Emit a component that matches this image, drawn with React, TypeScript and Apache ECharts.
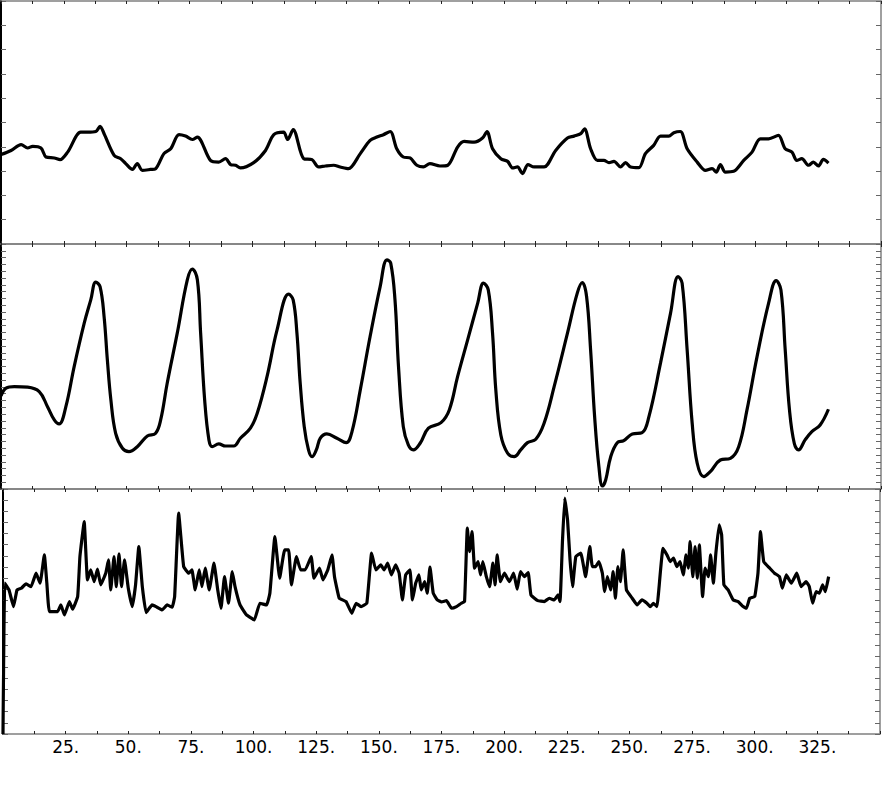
import React, { useEffect, useRef } from "react";
import * as echarts from "echarts";

// Panel 1 (top)
const p1x = [0, 4, 8, 10.6, 12.6, 15.9, 17.9, 21.2, 23.5, 26.5, 31.7, 34.4, 37.7, 39.4, 41, 45, 47.6, 49.6, 52.3, 54.2, 56.2, 59.5, 61.5, 64.8, 67.5, 70.8, 73.4, 76.1, 78.1, 83.3, 86.6, 89.3, 91.3, 93.3, 95.2, 100.5, 105.2, 108.5, 112.4, 114, 116.2, 120.4, 123.7, 126.3, 129, 132.3, 134.9, 138.2, 142.9, 146.8, 149.5, 152.1, 154.8, 157.4, 160, 162.7, 165.4, 168, 170.6, 174.6, 177.7, 181.6, 184.2, 188.2, 191.5, 193.3, 195.5, 198.8, 201.5, 203.5, 205.4, 207.4, 209.6, 212, 216, 220.6, 225.3, 227.9, 230.6, 232.1, 234.5, 237.2, 239.8, 241.8, 243.8, 246.4, 248.4, 250.4, 253.7, 256.3, 259.6, 262.3, 265.6, 267.6, 270.2, 272.9, 276.9, 280.2, 282.8, 284.5, 286.1, 288.1, 291.4, 295.4, 298.7, 302, 305.3, 309.2, 311.9, 314.6, 316.5, 318.5, 321.2, 323.1, 325.1, 327.1, 329.1];
const p1y = [3.68, 3.85, 4.09, 3.95, 4.02, 3.95, 3.58, 3.54, 3.47, 3.78, 4.6, 4.6, 4.63, 4.84, 4.54, 3.65, 3.51, 3.31, 3.07, 3.31, 3.03, 3.07, 3.1, 3.72, 3.92, 4.5, 4.44, 4.3, 4.4, 3.44, 3.37, 3.51, 3.27, 3.24, 3.13, 3.35, 3.85, 4.5, 4.6, 4.3, 4.71, 3.51, 3.47, 3.17, 3.21, 3.24, 3.17, 3.1, 3.72, 4.26, 4.4, 4.5, 4.63, 3.92, 3.58, 3.54, 3.24, 3.17, 3.31, 3.21, 3.24, 3.99, 4.22, 4.19, 4.36, 4.63, 3.92, 3.51, 3.4, 3.13, 3.17, 2.9, 3.27, 3.17, 3.17, 3.85, 4.36, 4.44, 4.54, 4.74, 3.92, 3.44, 3.44, 3.35, 3.4, 3.17, 3.35, 3.17, 3.14, 3.72, 4.06, 4.44, 4.44, 4.58, 4.63, 3.92, 3.37, 3.03, 3.1, 2.96, 3.27, 2.96, 2.99, 3.44, 3.78, 4.33, 4.33, 4.47, 3.92, 3.78, 3.44, 3.51, 3.24, 3.37, 3.21, 3.48, 3.33];

// Panel 2 (middle)
const p2x = [0, 2, 5.3, 10.6, 15.2, 18.5, 21.2, 23.1, 25.8, 29.1, 33.1, 35.7, 37.7, 39.4, 41, 42.3, 43.7, 45.6, 48.3, 50.9, 54.2, 58.2, 61.5, 63.5, 66.1, 70.1, 74.1, 76.1, 78.1, 79.4, 81, 82.7, 84, 86.6, 89.3, 92.6, 95.2, 99.2, 101.9, 105.8, 109.8, 114.4, 116.2, 117.7, 119, 120.6, 122.3, 123.7, 125.4, 127, 129.6, 133.6, 137.3, 139.6, 142.9, 146.8, 150.8, 153.5, 155, 156.7, 158.1, 160, 162, 164, 166.7, 170, 175, 178.3, 181.6, 185.6, 189.6, 191.9, 193.8, 195.5, 196.8, 198.8, 201.5, 204.1, 206.7, 209.4, 212.7, 216, 220, 225.3, 229.2, 231.2, 232.9, 234.5, 236.1, 237.8, 239.2, 240.5, 242.5, 245.1, 247.7, 251.1, 255, 257.7, 262.3, 266.3, 269.3, 270.9, 272.9, 274.9, 276.9, 279.5, 282.1, 286.1, 290.1, 293.4, 296.7, 300.7, 305.3, 308.3, 310.2, 311.9, 313.6, 315.5, 317.2, 319.8, 322.5, 325.8, 329.1];
const p2y = [13.68, 14.81, 15.04, 14.96, 14.31, 12.1, 10.15, 9.56, 12.1, 17.99, 24.37, 27.79, 30.4, 29.75, 25.34, 18.97, 13.09, 8.19, 5.99, 5.49, 6.22, 7.79, 8.19, 10.15, 15.54, 22.9, 30.74, 32.31, 30.74, 22.9, 13.09, 7.21, 6.22, 6.62, 6.32, 6.32, 7.46, 8.93, 11.13, 16.51, 23.38, 28.63, 27.79, 22.9, 15.54, 9.16, 5.74, 4.75, 5.74, 7.46, 8.09, 7.46, 6.81, 8.43, 14.56, 22.4, 29.75, 33.68, 33.19, 27.79, 17.99, 9.16, 6.47, 5.74, 6.72, 8.93, 9.75, 11.62, 16.51, 21.91, 27.31, 30.25, 29.26, 22.9, 14.56, 7.94, 5.25, 4.75, 5.74, 6.81, 7.31, 9.66, 15.04, 22.9, 28.78, 30.34, 28.28, 20.44, 10.63, 3.28, 0.44, 1.32, 4.75, 6.81, 7.1, 8.09, 8.28, 10.63, 18.49, 25.84, 31.22, 30.25, 20.44, 9.66, 3.78, 1.81, 2.54, 4.26, 4.51, 6.22, 11.62, 19.46, 27.31, 30.63, 29.26, 20.44, 11.62, 6.72, 5.74, 7.21, 8.43, 9.41, 11.72];

// Panel 3 (bottom)
const p3x = [0, 0.7, 2.4, 4.2, 5.6, 7.3, 9.2, 11.2, 13.2, 14.8, 16.5, 17.5, 18.5, 21.8, 23.1, 24.5, 26.5, 27.8, 29.8, 30.7, 32.4, 33.7, 35, 36.4, 37.7, 39, 41, 42.1, 43, 44.3, 45.2, 46.3, 47.3, 48.5, 50, 51.6, 52.9, 54.2, 55.6, 57.1, 59.5, 61.5, 63.5, 65.5, 67.5, 68.5, 70.1, 72.1, 74.1, 75.4, 76.7, 78.3, 79.4, 80.7, 82.3, 84.2, 85.7, 87, 88.4, 90, 91.5, 92.6, 94.6, 97.2, 100.3, 102.5, 105.2, 106.5, 108.5, 110.4, 112.4, 114, 115.1, 117.1, 118.8, 120.6, 123, 124.1, 126.3, 127.7, 129.6, 131.3, 132.3, 134.2, 136.9, 139.2, 140.9, 142.9, 145.2, 147.1, 148.8, 150.8, 152.1, 153.5, 155, 156.7, 158.1, 159.4, 160.7, 162.4, 163.4, 164.7, 166, 166.9, 168.3, 169.3, 170.4, 171.7, 173.3, 175, 177, 179, 181, 182.9, 184.2, 185.3, 186.2, 187.2, 188.2, 189.6, 190.6, 191.5, 192.9, 194.2, 195.5, 196.4, 197.2, 198.5, 200.1, 202.1, 203.8, 205.2, 206.5, 208.1, 209.6, 210.7, 213.4, 216, 218, 220, 221.5, 222.3, 223.3, 224.2, 225.3, 226.3, 227.3, 228.6, 230.6, 232.5, 234.2, 235.2, 236.5, 237.8, 239.2, 240.1, 241.2, 242.5, 243.5, 244.4, 245.4, 246.4, 247.5, 248.8, 251.1, 253.1, 255, 257, 258.3, 259.6, 261, 261.6, 263.4, 265, 266.3, 267.6, 268.9, 270.2, 271.5, 272.6, 273.5, 274.2, 275.3, 276.2, 277.1, 277.9, 279.2, 280.2, 281.5, 282.4, 283.5, 284.5, 285.8, 286.8, 287.7, 289.4, 291.4, 293.4, 295.4, 296.7, 298, 300, 301.3, 302.3, 303.6, 306, 307.9, 309.9, 311, 312.6, 314.6, 316.8, 318.5, 320.5, 321.8, 323.1, 324.5, 325.8, 327.1, 328.2, 329.5];
const p3y = [0, 13.54, 12.94, 11.44, 12.94, 13.09, 13.48, 13.23, 14.44, 13.54, 16.08, 13.54, 10.99, 10.99, 11.59, 10.69, 11.89, 11.2, 12.34, 15.93, 19.07, 13.84, 14.73, 13.68, 14.8, 13.39, 14.44, 15.63, 12.94, 15.93, 13.23, 16.17, 13.23, 15.63, 13.09, 11.44, 13.39, 16.83, 13.23, 10.9, 11.59, 11.38, 11.14, 11.59, 11.38, 12.34, 19.83, 15.03, 14.44, 14.73, 12.94, 14.73, 13.23, 14.89, 12.94, 15.34, 12.94, 11.29, 14.13, 11.74, 14.58, 13.23, 11.59, 10.69, 10.24, 11.74, 11.59, 12.64, 17.73, 13.99, 16.53, 16.53, 13.39, 15.93, 14.73, 14.73, 15.93, 13.99, 14.89, 13.84, 14.73, 16.08, 14.13, 12.19, 11.89, 10.84, 11.74, 11.44, 11.74, 16.24, 14.73, 15.18, 14.73, 15.34, 14.29, 15.18, 14.44, 12.04, 14.29, 14.73, 12.04, 13.54, 14.29, 12.94, 13.68, 12.64, 14.98, 12.64, 12.04, 11.86, 11.98, 11.29, 11.44, 11.74, 11.89, 18.48, 16.38, 18.18, 14.89, 15.48, 14.29, 15.48, 14.13, 13.23, 15.34, 13.39, 16.08, 13.68, 14.44, 13.68, 14.44, 13.0, 14.58, 14.13, 14.49, 12.49, 11.98, 11.89, 12.19, 12.04, 12.49, 11.89, 17.43, 21.18, 19.23, 15.63, 13.23, 15.93, 16.24, 14.13, 16.83, 15.03, 15.03, 15.48, 14.44, 12.79, 14.13, 12.94, 14.58, 12.19, 15.03, 13.68, 16.53, 12.94, 12.19, 11.59, 12.04, 11.74, 11.44, 11.74, 11.44, 12.64, 16.68, 16.08, 15.48, 15.79, 15.03, 15.48, 14.29, 16.08, 14.89, 17.28, 14.13, 16.83, 13.99, 16.98, 12.34, 14.89, 14.13, 16.08, 13.54, 16.24, 18.78, 17.88, 13.39, 12.94, 12.04, 11.89, 11.44, 11.29, 12.19, 12.34, 14.44, 18.18, 15.48, 14.89, 14.44, 14.13, 13.09, 14.29, 13.54, 14.44, 13.23, 13.68, 13.23, 11.74, 12.79, 12.64, 13.39, 12.79, 14.13];

const X_MIN = 0;
const X_MAX = 350;
const X_TICK = 12.5;
const Y_MAX = [10, 36, 22];

const zip = (xs: number[], ys: number[]) => xs.map((x, i) => [x, ys[i]]);

const GRAY = "#808080";

function xAxes(grid: number, showLabels: boolean) {
  const base = {
    type: "value" as const,
    gridIndex: grid,
    min: X_MIN,
    max: X_MAX,
    interval: X_TICK,
    splitLine: { show: false },
    axisLine: { show: true, onZero: false, lineStyle: { color: GRAY, width: 1.5 } },
    axisTick: { show: true, inside: true, length: 3, lineStyle: { color: "#222", width: 1 } },
  };
  return [
    {
      ...base,
      position: "bottom",
      axisLabel: {
        show: showLabels,
        margin: 4,
        color: "#000",
        fontFamily: "DejaVu Sans",
        fontSize: 17,
        formatter: (v: number) => (v % 25 === 0 && v > 0 && v < 350 ? v + "." : ""),
      },
    },
    { ...base, position: "top", axisLabel: { show: false } },
  ];
}

function yAxes(grid: number, max: number) {
  const base = {
    type: "value" as const,
    gridIndex: grid,
    min: 0,
    max,
    interval: 1,
    splitLine: { show: false },
    axisLabel: { show: false },
    axisTick: { show: true, inside: true, length: 5, lineStyle: { color: "#666", width: 1 } },
  };
  return [
    { ...base, position: "left", axisLine: { show: true, onZero: false, lineStyle: { color: "#000", width: 2 } } },
    { ...base, position: "right", axisLine: { show: true, onZero: false, lineStyle: { color: GRAY, width: 1.5 } } },
  ];
}

export default function App() {
  const ref = useRef<HTMLDivElement>(null);
  useEffect(() => {
    if (!ref.current) return;
    const chart = echarts.init(ref.current, undefined, { renderer: "svg" });
    const lineStyle = { color: "#000", width: 3.2 };
    chart.setOption({
      animation: false,
      backgroundColor: "#fff",
      grid: [
        { left: 1, top: 1, width: 880, height: 243 },
        { left: 1, top: 244, width: 880, height: 245 },
        { left: 1, top: 489, width: 880, height: 245 },
      ],
      xAxis: [...xAxes(0, false), ...xAxes(1, false), ...xAxes(2, true)],
      yAxis: [...yAxes(0, Y_MAX[0]), ...yAxes(1, Y_MAX[1]), ...yAxes(2, Y_MAX[2])],
      series: [
        { type: "line", xAxisIndex: 0, yAxisIndex: 0, data: zip(p1x, p1y), showSymbol: false, smooth: 0.3, lineStyle },
        { type: "line", xAxisIndex: 2, yAxisIndex: 2, data: zip(p2x, p2y), showSymbol: false, smooth: 0.4, lineStyle },
        { type: "line", xAxisIndex: 4, yAxisIndex: 4, data: zip(p3x, p3y), showSymbol: false, smooth: 0.1, lineStyle },
      ],
    });
    return () => chart.dispose();
  }, []);
  return (
    <div
      ref={ref}
      style={{ position: "absolute", left: 0, top: 0, width: 883, height: 787, background: "#fff" }}
    />
  );
}
